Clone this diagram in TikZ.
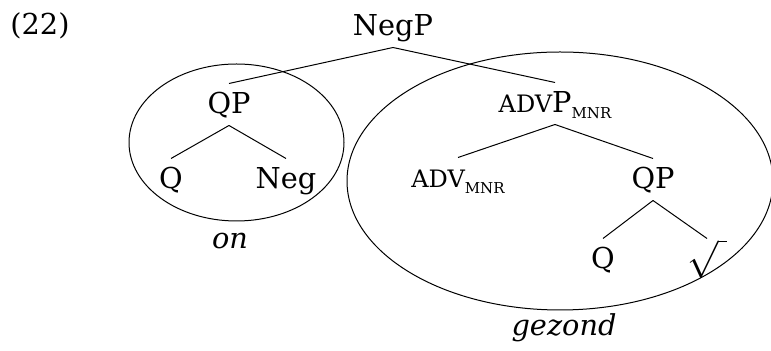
\documentclass[tikz,border=0pt]{standalone}
\usepackage{fontspec}
\setmainfont{DejaVu Serif}
\newcommand{\smcap}[1]{{\fontsize{12pt}{12pt}\selectfont #1}}
\newcommand{\mnr}{\raisebox{-3pt}{\fontsize{7.5pt}{8pt}\selectfont MNR}}
\tikzset{
  lbl/.style={anchor=base, text height=10.5pt, text depth=1pt, inner xsep=0pt, inner ysep=4.5pt},
  gloss/.style={anchor=base, inner sep=0pt, font=\fontsize{14.4pt}{17pt}\selectfont\itshape}
}
\begin{document}
\begin{tikzpicture}[x=0.5pt, y=-0.5pt, line width=0.5pt, font=\fontsize{14.4pt}{17pt}\selectfont]
		\useasboundingbox (0,0) rectangle (771,351);
		\clip (0,0) rectangle (771,351);
		\node (ex)[anchor=base, inner sep=0pt] at(40,35) {(22)};
		\node (negp)[lbl] at(393,36) {NegP};
		\node (qpl)[lbl] at(229,114) {QP};
		\node (ql)[lbl] at(171,189) {Q};
		\node (neg)[lbl] at(286,189) {Neg};
		\node (advp)[lbl] at(555,113) {\smcap{ADV}P\mnr};
		\node (adv)[lbl] at(458,188) {\smcap{ADV}\mnr};
		\node (qpr)[lbl] at(653,189) {QP};
		\node (qr)[lbl] at(603,269) {Q};
		\node (root)[lbl] at(707,269) {\scalebox{1.3}{$\sqrt{\vphantom{x}\mkern4mu}$}};
		\node (on)[gloss] at(230,249) {on};
		\node (gezond)[gloss] at(564,336) {gezond};
		\draw (negp.south)--(qpl.north);
		\draw (negp.south)--(advp.north);
		\draw (qpl.south)--(ql.north);
		\draw (qpl.south)--(neg.north);
		\draw (advp.south)--(adv.north);
		\draw (advp.south)--(qpr.north);
		\draw (qpr.south)--(qr.north);
		\draw (qpr.south)--(root.north);
		\draw (236.5,142.5) ellipse [x radius=53.75pt, y radius=39.25pt];
		\draw (560,181) ellipse [x radius=106.5pt, y radius=64.5pt];
	\end{tikzpicture}
\end{document}
